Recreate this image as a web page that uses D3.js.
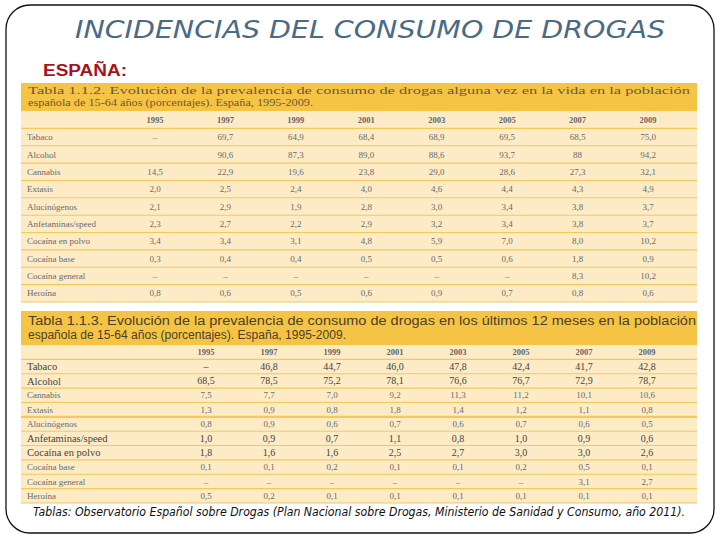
<!DOCTYPE html>
<html><head><meta charset="utf-8">
<script src="https://cdn.jsdelivr.net/npm/d3@7/dist/d3.min.js"></script>
<style>html,body{margin:0;padding:0;background:#fff;}svg{display:block;}</style>
</head><body><svg id="c" width="720" height="540"></svg>
<script>
const title = "INCIDENCIAS DEL CONSUMO DE DROGAS";
const region = "ESPAÑA:";
const years = ["1995","1997","1999","2001","2003","2005","2007","2009"];
const drugs = ["Tabaco","Alcohol","Cannabis","Extasis","Alucinógenos","Anfetaminas/speed","Cocaína en polvo","Cocaína base","Cocaína general","Heroína"];
const caption1 = ["Tabla 1.1.2. Evolución de la prevalencia de consumo de drogas alguna vez en la vida en la población",
                  "española de 15-64 años (porcentajes). España, 1995-2009."];
const caption2 = ["Tabla 1.1.3. Evolución de la prevalencia de consumo de drogas en los últimos 12 meses en la población",
                  "española de 15-64 años (porcentajes). España, 1995-2009."];
const lifetime = [
  ["–","69,7","64,9","68,4","68,9","69,5","68,5","75,0"],
  ["","90,6","87,3","89,0","88,6","93,7","88","94,2"],
  ["14,5","22,9","19,6","23,8","29,0","28,6","27,3","32,1"],
  ["2,0","2,5","2,4","4,0","4,6","4,4","4,3","4,9"],
  ["2,1","2,9","1,9","2,8","3,0","3,4","3,8","3,7"],
  ["2,3","2,7","2,2","2,9","3,2","3,4","3,8","3,7"],
  ["3,4","3,4","3,1","4,8","5,9","7,0","8,0","10,2"],
  ["0,3","0,4","0,4","0,5","0,5","0,6","1,8","0,9"],
  ["–","–","–","–","–","–","8,3","10,2"],
  ["0,8","0,6","0,5","0,6","0,9","0,7","0,8","0,6"]
];
const lastYear = [
  ["–","46,8","44,7","46,0","47,8","42,4","41,7","42,8"],
  ["68,5","78,5","75,2","78,1","76,6","76,7","72,9","78,7"],
  ["7,5","7,7","7,0","9,2","11,3","11,2","10,1","10,6"],
  ["1,3","0,9","0,8","1,8","1,4","1,2","1,1","0,8"],
  ["0,8","0,9","0,6","0,7","0,6","0,7","0,6","0,5"],
  ["1,0","0,9","0,7","1,1","0,8","1,0","0,9","0,6"],
  ["1,8","1,6","1,6","2,5","2,7","3,0","3,0","2,6"],
  ["0,1","0,1","0,2","0,1","0,1","0,2","0,5","0,1"],
  ["–","–","–","–","–","–","3,1","2,7"],
  ["0,5","0,2","0,1","0,1","0,1","0,1","0,1","0,1"]
];
const source = "Tablas: Observatorio Español sobre Drogas (Plan Nacional sobre Drogas, Ministerio de Sanidad y Consumo, año 2011).";

const svg = d3.select("#c");

svg.append("rect").attr("x",6).attr("y",5).attr("width",708).attr("height",528)
  .attr("rx",24).attr("ry",24).attr("fill","#fff").attr("stroke","#111").attr("stroke-width",1.3);

svg.append("text").attr("x",370).attr("y",38).attr("text-anchor","middle")
  .attr("font-family","DejaVu Sans").attr("font-style","italic").attr("font-weight","normal")
  .attr("font-size",25).attr("fill","#4a6a85")
  .attr("textLength",590).attr("lengthAdjust","spacingAndGlyphs").text(title);

svg.append("text").attr("x",43).attr("y",76)
  .attr("font-family","Liberation Sans").attr("font-weight","bold")
  .attr("font-size",16).attr("fill","#a8121a")
  .attr("textLength",84).attr("lengthAdjust","spacingAndGlyphs").text(region);

const yellow = "#f6c445", cream = "#fdebc6", sep = "#f3c85e";

function drawTable(cfg) {
  const g = svg.append("g");
  g.append("rect").attr("x",cfg.x0).attr("y",cfg.bandTop).attr("width",cfg.x1-cfg.x0)
    .attr("height",cfg.bandBottom-cfg.bandTop).attr("fill",yellow);
  cfg.caption.forEach((line,i)=>{
    const t = g.append("text").attr("x",cfg.x0+7).attr("y",cfg.capY[i])
      .attr("font-family",cfg.capFont).attr("font-size",cfg.capSize).attr("fill",cfg.capColor).text(line);
    t.attr("textLength",cfg.capLen[i]).attr("lengthAdjust","spacingAndGlyphs");
  });
  const rows = ["header"].concat(drugs);
  const y = d3.scaleBand().domain(rows).range([cfg.bandBottom, cfg.bottom]);
  const x = d3.scalePoint().domain(years).range(cfg.colRange);
  g.append("rect").attr("x",cfg.x0).attr("y",cfg.bandBottom).attr("width",cfg.x1-cfg.x0)
    .attr("height",cfg.bottom-cfg.bandBottom).attr("fill",cream);
  g.selectAll("line.sep").data(rows).join("line")
    .attr("x1",cfg.x0).attr("x2",cfg.x1)
    .attr("y1",d=>y(d)+y.bandwidth()).attr("y2",d=>y(d)+y.bandwidth())
    .attr("stroke",sep).attr("stroke-width",(d)=>cfg.thick.includes(d)?2.2:1.1);
  g.selectAll("text.yr").data(years).join("text")
    .attr("x",d=>x(d)).attr("y",y("header")+y.bandwidth()/2)
    .attr("dy","0.35em").attr("text-anchor","middle")
    .attr("font-family","Liberation Serif").attr("font-weight","bold")
    .attr("font-size",cfg.bodySize-0.5).attr("fill","#666").text(d=>d);
  g.selectAll("text.lab").data(drugs).join("text")
    .attr("x",cfg.x0+6).attr("y",d=>y(d)+y.bandwidth()/2).attr("dy","0.35em")
    .attr("font-family","Liberation Serif").attr("font-size",d=>cfg.big.includes(d)?cfg.bodySize+1.5:cfg.bodySize)
    .attr("fill",d=>cfg.big.includes(d)?"#444":"#6a6a6a").text(d=>d);
  drugs.forEach((dname,ri)=>{
    g.selectAll(null).data(cfg.values[ri]).join("text")
      .attr("x",(d,i)=>x(years[i])).attr("y",y(dname)+y.bandwidth()/2).attr("dy","0.35em")
      .attr("text-anchor","middle").attr("font-family","Liberation Serif")
      .attr("font-size",cfg.big.includes(dname)?cfg.bodySize+1:cfg.bodySize)
      .attr("fill",cfg.big.includes(dname)?"#444":"#6a6a6a").text(d=>d);
  });
}

drawTable({
  x0:21, x1:697, bandTop:83, bandBottom:111, bottom:302,
  caption:caption1, capY:[94,106], capSize:10.5, capLen:[662,285], capFont:"Liberation Serif", capColor:"#6a5a3a",
  colRange:[155,648], values:lifetime, bodySize:9, big:[], thick:[]
});
drawTable({
  x0:21, x1:697, bandTop:311, bandBottom:345, bottom:503,
  caption:caption2, capY:[325,339], capSize:12, capLen:[668,318], capFont:"Liberation Sans", capColor:"#4a3f2a",
  colRange:[206,647], values:lastYear, bodySize:9, big:["Tabaco","Alcohol","Anfetaminas/speed","Cocaína en polvo"], thick:["Extasis"]
});

svg.append("text").attr("x",359).attr("y",516).attr("text-anchor","middle")
  .attr("font-family","DejaVu Sans").attr("font-style","italic")
  .attr("font-size",11.5).attr("fill","#111")
  .attr("textLength",652).attr("lengthAdjust","spacingAndGlyphs").text(source);
</script></body></html>
